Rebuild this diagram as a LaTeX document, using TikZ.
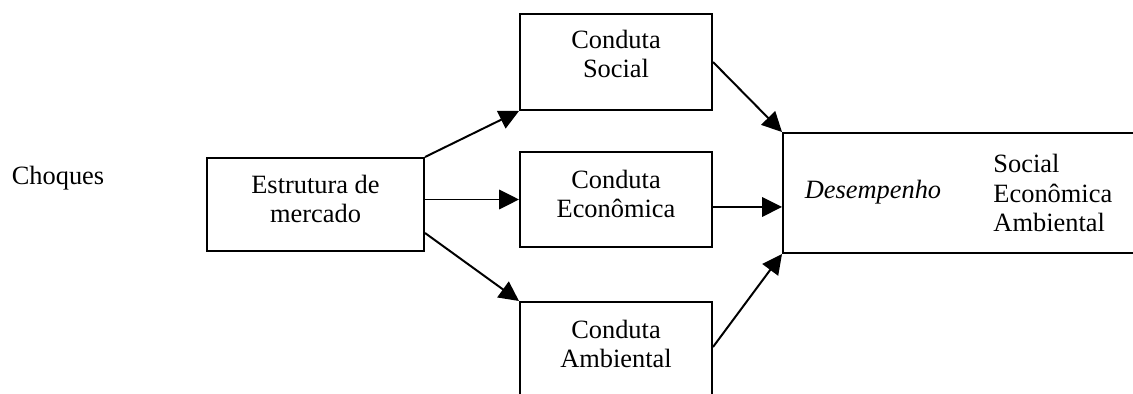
\documentclass[tikz,border=0pt]{standalone}
\usepackage{fontspec}
\setmainfont{Liberation Serif}
\usetikzlibrary{arrows.meta,fit,calc}
\begin{document}
\begin{tikzpicture}[x=0.4545pt,y=-0.4545pt,
  boxn/.style={draw=black,line width=0.9pt,inner sep=0pt},
  txt/.style={inner sep=0pt,align=center,font=\fontsize{12}{13.6}\selectfont},
  txtl/.style={inner sep=0pt,align=left,anchor=west,font=\fontsize{12}{13.6}\selectfont},
  conn/.style={line width=0.9pt,-{Triangle[length=9pt,width=8.8pt]}}]
\useasboundingbox (0,0) rectangle (1133,394);
\clip (0,0) rectangle (1133,394);
% boxes
\node[boxn,fit={(207,158) (424,251)}] (estr) {};
\node[boxn,fit={(520,14) (712,110)}] (soc) {};
\node[boxn,fit={(520,152) (712,247)}] (econ) {};
\node[boxn,fit={(520,302) (712,430)}] (amb) {};
\node[boxn,fit={(783,133) (1160,253)}] (perf) {};
% texts
\node[txt] (tchoq) at (58,178) {Choques};
\node[txt] (testr) at (315.5,199) {Estrutura de\\mercado};
\node[txt] (tsoc) at (616,54) {Conduta\\Social};
\node[txt] (tecon) at (616,194) {Conduta\\Econômica};
\node[txt] (tamb) at (616,344) {Conduta\\Ambiental};
\node[txt,font=\fontsize{12}{13.6}\selectfont\itshape] (tdes) at (873,192) {Desempenho};
\node[txtl] (tdims) at (993,193) {Social\\Econômica\\Ambiental};
% connectors
\coordinate (econout) at ([yshift=-3.4pt]econ.east);
\coordinate (perfin) at (perf.west |- econout);
\coordinate (ambout) at ([yshift=-20.9pt]amb.north east);
\draw[conn] (estr.north east) -- (soc.south west);
\draw[conn] (estr.east |- econ.west) -- (econ.west);
\draw[conn] ($(estr.north east)!0.8!(estr.south east)$) -- (amb.north west);
\draw[conn] ($(soc.north east)!0.5!(soc.south east)$) -- (perf.north west);
\draw[conn] (econout) -- (perfin);
\draw[conn] (ambout) -- (perf.south west);
\end{tikzpicture}
\end{document}
